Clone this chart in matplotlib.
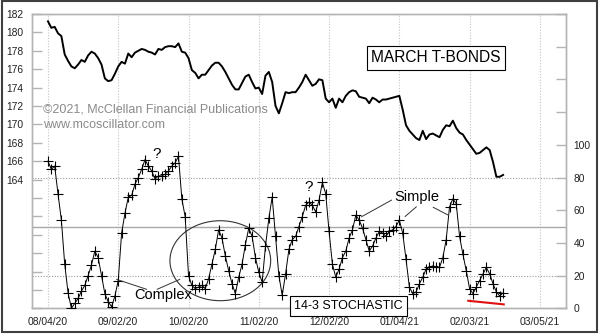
import matplotlib
matplotlib.use('Agg')
import matplotlib.pyplot as plt
from matplotlib.patches import Ellipse, Rectangle

plt.rcParams['font.family'] = ['Liberation Sans', 'DejaVu Sans']

# ---------------- data ----------------
date_labels = ['08/04/20', '09/02/20', '10/02/20', '11/02/20',
               '12/02/20', '01/04/21', '02/03/21', '03/05/21']
date_pos = [0, 21, 42, 63, 84, 105, 126, 147]   # trading-day index

price = [181.2, 180.5, 180.6, 179.9, 179.6, 177.6, 176.9, 176.3, 176.1, 176.5,
         177.0, 176.8, 177.5, 177.9, 177.7, 177.2, 176.5, 175.0, 174.7, 174.8,
         175.5, 176.3, 176.8, 176.6, 177.7, 177.3, 177.8, 178.0, 178.2, 178.1,
         177.9, 177.8, 177.6, 178.2, 178.1, 178.4, 178.5, 178.5, 178.4, 178.8,
         177.9, 177.8, 177.2, 175.9, 175.6, 175.0, 175.4, 175.4, 175.9, 176.4,
         176.7, 176.7, 176.3, 175.7, 175.0, 174.3, 173.8, 173.8, 174.5, 175.2,
         175.4, 174.6, 173.9, 174.0, 173.3, 175.3, 175.7, 174.6, 172.0, 171.2,
         172.3, 173.5, 173.4, 173.5, 173.5, 174.0, 174.6, 175.4, 174.8, 174.2,
         174.4, 174.9, 174.8, 172.8, 172.4, 172.8, 171.8, 172.8, 172.4, 173.1,
         173.5, 173.7, 173.6, 173.0, 172.9, 172.8, 172.3, 172.9, 172.7, 172.4,
         172.7, 172.7, 172.8, 172.9, 173.0, 173.1, 171.6, 169.9, 169.3, 168.9,
         168.5, 168.3, 169.3, 168.4, 168.9, 169.0, 168.8, 168.6, 169.4, 169.9,
         169.8, 170.4, 169.6, 169.1, 168.9, 168.3, 167.8, 167.3, 166.8, 166.9,
         167.2, 167.5, 167.2, 165.9, 164.3, 164.3, 164.5]

stoch = [90, 85, 87, 70, 54, 27, 9.5, 0, 3, 6,
         10.5, 14, 20, 26.5, 35, 31, 20, 9, 4, 1,
         7.5, 17, 46, 58, 68, 69, 76, 80, 85, 91,
         87, 84, 79, 81, 81, 82, 84, 87, 89, 93,
         67, 56, 20, 14, 12, 13, 14, 12, 18, 27,
         36, 48, 43, 32, 23, 15, 9, 19, 27, 39,
         49, 44, 31, 22, 16, 38, 55, 68, 44, 20,
         8, 21, 36, 42, 44, 50, 56, 63, 65, 63,
         59, 66, 77, 70, 47, 27, 19, 24, 31, 35,
         43, 48, 57, 54, 49, 42, 35, 38, 43, 47,
         46, 44, 47, 48, 50, 54, 46, 30, 13, 9,
         10, 15, 19, 24, 25, 26, 25, 25, 31, 42,
         62, 67, 64, 44, 33, 23, 12, 9, 13, 17,
         21, 25, 21, 15, 10, 7.5, 9.5]

price_ticks = list(range(150, 183, 2))
stoch_ticks = list(range(0, 181, 20))
divergence_x = [125.6, 136.2]
divergence_y = [4.6, 2.4]

x = list(range(len(price)))

# ---------------- figure ----------------
fig = plt.figure(figsize=(6, 3.35), dpi=100)
ax = fig.add_axes([0.0533, 0.0797, 0.89, 0.8785])
ax2 = ax.twinx()

ax.set_xlim(-4.78, 154.8)
ax.set_ylim(150, 182)
ax2.set_ylim(0, 180)

spine_c = '#b4b4b4'
grid_c = '#c4c4c4'
for a in (ax, ax2):
    for s in a.spines.values():
        s.set_color(spine_c)
        s.set_linewidth(1.0)

# x ticks / grid
ax.set_xticks(date_pos, date_labels)
ax.tick_params(axis='x', length=0, pad=6.5, labelsize=7.4, labelcolor='#222222')
ax.grid(axis='x', color=grid_c, linestyle=(0, (1, 1.5)), linewidth=0.8)

# left price axis
ax.set_yticks(price_ticks, [str(v) if v >= 164 else '' for v in price_ticks])
ax.tick_params(axis='y', direction='in', length=7, color=spine_c, width=1,
               labelsize=7.4, pad=6.5, labelcolor='#222222')

# right stochastic axis
ax2.set_yticks(stoch_ticks, [str(v) if v <= 100 else '' for v in stoch_ticks])
ax2.tick_params(axis='y', direction='in', length=7, color=spine_c, width=1,
                labelsize=7.4, pad=5.5, labelcolor='#222222')

# reference lines
ax2.axhline(20, color='#9a9a9a', linestyle=(0, (1, 1.5)), linewidth=0.8, zorder=1)
ax2.axhline(80, color='#9a9a9a', linestyle=(0, (1, 1.5)), linewidth=0.8, zorder=1)
ax2.axhline(50, color='#a8a8a8', linestyle='-', linewidth=1.0, zorder=1)

# series
ax.plot(x, price, color='black', lw=1.4, zorder=3)
ax2.plot(x, stoch, color='black', lw=0.7, marker='+', ms=6.5, mew=0.8, zorder=3)
ax2.plot(divergence_x, divergence_y, color='#e01010', lw=1.5, zorder=4)

# annotations
ax2.text(116, 153.3, 'MARCH T-BONDS', fontsize=11.2, ha='center', va='center',
         bbox=dict(boxstyle='square,pad=0.28', fc='white', ec='black', lw=0.8))
ax2.text(89.8, 1.6, '14-3 STOCHASTIC', fontsize=9, ha='center', va='center',
         clip_on=False, zorder=6,
         bbox=dict(boxstyle='square,pad=0.33', fc='white', ec='black', lw=0.8))
ax2.text(-1.6, 121.3, '\u00a92021, McClellan Financial Publications', fontsize=9,
         color='#8a8a8a', ha='left', va='center')
ax2.text(-1.6, 112.1, 'www.mcoscillator.com', fontsize=9,
         color='#8a8a8a', ha='left', va='center')
ax2.text(32.5, 94.4, '?', fontsize=11, ha='center', va='center')
ax2.text(77.8, 74.4, '?', fontsize=11, ha='center', va='center')

ax2.text(110.2, 67.9, 'Simple', fontsize=10.5, ha='center', va='center')
for (x0, y0), (x1, y1) in [((102.7, 66.2), (93.7, 56.0)),
                           ((110.1, 62.1), (106.7, 56.1)),
                           ((115.1, 61.8), (119.5, 57.1))]:
    ax2.annotate('', xy=(x1, y1), xytext=(x0, y0),
                 arrowprops=dict(arrowstyle='-', color='#333333', lw=0.7,
                                 shrinkA=0, shrinkB=0))

ax2.text(34.4, 8.1, 'Complex', fontsize=10.5, ha='center', va='center')
for (x0, y0), (x1, y1) in [((29.5, 11.6), (20.5, 17.7)),
                           ((32.6, 11.6), (39.4, 17.7))]:
    ax2.annotate('', xy=(x1, y1), xytext=(x0, y0),
                 arrowprops=dict(arrowstyle='-', color='#333333', lw=0.7,
                                 shrinkA=0, shrinkB=0))

ax2.add_patch(Ellipse((51.5, 29.1), 30.1, 48.9, fill=False, ec='#333333', lw=0.8))

# figure border
fig.patches.append(Rectangle((0.0025, 0.008), 0.993, 0.989, transform=fig.transFigure,
                             fill=False, ec='#404040', lw=1.5))

fig.savefig('out.png', dpi=100)
